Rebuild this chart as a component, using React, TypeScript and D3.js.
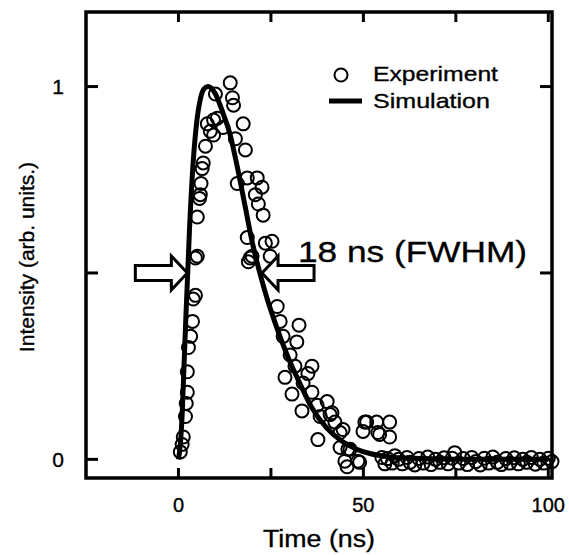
import { useEffect, useRef } from "react";
import * as d3 from "d3";

// experiment: [time (ns), intensity]
const experimentTime = [
  0.5, 1.0, 1.3, 1.9, 2.1, 2.4, 2.4, 2.7, 3.3, 3.8, 4.0, 4.6, 4.6, 5.1, 5.1, 5.7, 5.9, 6.1, 6.4, 6.7,
  7.3, 7.8, 8.6, 9.5, 9.5, 10.0, 10.5, 12.0, 14.0, 14.6, 14.9, 15.4, 15.9, 17.5, 18.1, 18.6, 18.6, 19.4,
  19.9, 18.9, 20.8, 21.3, 21.6, 22.6, 22.9, 23.5, 25.3, 24.8, 26.7, 27.5, 28.3, 28.8, 30.2, 30.7, 31.5,
  32.0, 32.6, 33.4, 33.7, 35.0, 36.1, 36.1, 37.5, 37.7, 38.3, 40.2, 41.0, 41.5, 42.3, 43.7, 43.7, 44.5,
  45.0, 45.6, 45.8, 46.4, 48.5, 49.0, 49.9, 50.4, 50.9, 53.6, 53.9, 54.4, 55.0, 57.1, 57.1, 58.5, 55.8,
  56.5, 57.8, 59.5, 60.5, 61.8, 62.6, 63.9, 65.0, 66.2, 67.4, 68.3, 69.5, 70.7, 71.8, 72.9, 74.0, 74.7,
  75.8, 77.0, 78.1, 79.3, 80.4, 81.6, 82.7, 83.9, 85.0, 86.2, 87.3, 88.5, 89.6, 90.8, 91.9, 93.1, 94.2,
  95.4, 96.5, 97.7, 98.8, 100.0, 101.0,
];
const experimentIntensity = [
  0.02, 0.04, 0.06, 0.115, 0.15, 0.18, 0.235, 0.3, 0.33, 0.37, 0.43, 0.44, 0.54, 0.545, 0.65, 0.7, 0.71, 0.74, 0.78, 0.795,
  0.84, 0.9, 0.88, 0.87, 0.91, 0.98, 0.915, 0.89, 1.01, 0.97, 0.95, 0.86, 0.74, 0.9, 0.83, 0.755, 0.595, 0.54,
  0.545, 0.53, 0.71, 0.755, 0.685, 0.73, 0.655, 0.58, 0.585, 0.545, 0.41, 0.37, 0.33, 0.22, 0.28, 0.175, 0.25,
  0.315, 0.36, 0.13, 0.205, 0.23, 0.25, 0.18, 0.145, 0.053, 0.115, 0.155, 0.12, 0.125, 0.1, 0.072, 0.032, 0.08,
  -0.005, -0.02, 0.027, 0.027, -0.005, -0.008, 0.075, 0.1, 0.1, 0.1, 0.072, 0.067, 0.005, 0.1, 0.06, 0.01, -0.012,
  0.002, -0.01, 0.0, -0.012, 0.005, -0.008, -0.015, 0.002, -0.01, 0.006, -0.014, 0.0, -0.008, 0.004, -0.012, 0.003, 0.018,
  -0.01, 0.002, -0.014, 0.005, -0.006, -0.015, 0.003, -0.01, 0.006, -0.008, -0.014, 0.002, -0.01, 0.004, -0.012, 0.0, -0.008,
  0.005, -0.013, 0.0, -0.01, 0.003, -0.006,
];

// simulation curve
const simTime = [0, 0.5, 1, 1.5, 2, 2.5, 3, 4, 5, 6, 7, 8, 9, 10, 12, 14, 16, 18, 20, 22, 24, 26, 28, 30, 33, 36, 40, 44, 48, 52, 56, 60, 70, 80, 100];
const simIntensity = [0, 0.04, 0.12, 0.25, 0.38, 0.5, 0.62, 0.8, 0.91, 0.97, 0.995, 1.0, 0.995, 0.98, 0.93, 0.87, 0.78, 0.68, 0.58, 0.5, 0.43, 0.37, 0.315, 0.265, 0.2, 0.14, 0.085, 0.05, 0.028, 0.015, 0.008, 0.004, 0.001, 0, 0];

const xTicks = [0, 25, 50, 75, 100];
const xTickLabels = ["0", "", "50", "", "100"];
const yTicks = [0, 0.5, 1];
const yTickLabels = ["0", "", "1"];

// half maximum crossing points (ns) for the FWHM arrows
const fwhmEdges = [2.4, 22.6];
const halfMax = 0.5;

const App = () => {
  const svgRef = useRef<SVGSVGElement>(null);

  useEffect(() => {
    const svg = d3.select(svgRef.current);
    svg.selectAll("*").remove();

    const left = 86, right = 552, top = 12, bottom = 478;
    const font = "'Liberation Sans', Arial, Helvetica, sans-serif";

    const x = d3.scaleLinear().domain([-25, 101]).range([left, right]);
    const y = d3.scaleLinear().domain([-0.05, 1.2]).range([bottom, top]);

    // helper: scanned-looking text, optionally stretched to a width
    const label = (px: number, py: number, str: string, size: number, width?: number, anchor = "start") => {
      const t = svg
        .append("text")
        .attr("x", px)
        .attr("y", py)
        .attr("text-anchor", anchor)
        .attr("fill", "#000")
        .attr("stroke", "#000")
        .attr("stroke-width", 0.35)
        .style("font-family", font)
        .style("font-size", size + "px")
        .text(str);
      if (width) t.attr("textLength", width).attr("lengthAdjust", "spacingAndGlyphs");
      return t;
    };

    // simulation line
    const simData = simTime.map((t, i) => [t, simIntensity[i]] as [number, number]);
    const line = d3
      .line<[number, number]>()
      .x((d) => x(d[0]))
      .y((d) => y(d[1]))
      .curve(d3.curveMonotoneX);
    svg
      .append("path")
      .attr("d", line(simData))
      .attr("fill", "none")
      .attr("stroke", "#000")
      .attr("stroke-width", 5)
      .attr("stroke-linejoin", "round");

    // experiment circles
    const expData = experimentTime.map((t, i) => [t, experimentIntensity[i]]);
    svg
      .append("g")
      .selectAll("circle")
      .data(expData)
      .enter()
      .append("circle")
      .attr("cx", (d) => x(d[0]))
      .attr("cy", (d) => y(d[1]))
      .attr("r", 6.5)
      .attr("fill", "none")
      .attr("stroke", "#000")
      .attr("stroke-width", 2);

    // frame
    svg
      .append("rect")
      .attr("x", left)
      .attr("y", top)
      .attr("width", right - left)
      .attr("height", bottom - top)
      .attr("fill", "none")
      .attr("stroke", "#000")
      .attr("stroke-width", 3.5);

    // inward ticks on all four sides
    const tickG = svg.append("g").attr("stroke", "#000").attr("stroke-width", 3);
    xTicks.forEach((t) => {
      tickG.append("line").attr("x1", x(t)).attr("x2", x(t)).attr("y1", bottom).attr("y2", bottom - 10);
      tickG.append("line").attr("x1", x(t)).attr("x2", x(t)).attr("y1", top).attr("y2", top + 10);
    });
    yTicks.forEach((v) => {
      tickG.append("line").attr("x1", left).attr("x2", left + 12).attr("y1", y(v)).attr("y2", y(v));
      tickG.append("line").attr("x1", right).attr("x2", right - 12).attr("y1", y(v)).attr("y2", y(v));
    });

    // tick labels
    xTicks.forEach((t, i) => {
      if (xTickLabels[i]) label(x(t), 512, xTickLabels[i], 20, undefined, "middle");
    });
    yTicks.forEach((v, i) => {
      if (yTickLabels[i]) label(64, y(v) + 7.5, yTickLabels[i], 21, undefined, "end");
    });

    // axis titles
    label((left + right) / 2, 547, "Time (ns)", 23, 112, "middle");
    svg
      .append("text")
      .attr("transform", "translate(34,257) rotate(-90)")
      .attr("text-anchor", "middle")
      .attr("stroke", "#000")
      .attr("stroke-width", 0.35)
      .style("font-family", font)
      .style("font-size", "21px")
      .text("Intensity (arb. units.)");

    // legend
    svg
      .append("circle")
      .attr("cx", 341)
      .attr("cy", 75)
      .attr("r", 6.5)
      .attr("fill", "none")
      .attr("stroke", "#000")
      .attr("stroke-width", 2);
    svg
      .append("line")
      .attr("x1", 329)
      .attr("x2", 362)
      .attr("y1", 101)
      .attr("y2", 101)
      .attr("stroke", "#000")
      .attr("stroke-width", 5);
    label(373, 81, "Experiment", 21, 125);
    label(373, 108, "Simulation", 21, 117);

    // FWHM arrows (hollow)
    const ay = y(halfMax);
    const arrow = (tipX: number, dir: number) => {
      const headLen = 16, tailLen = 36, headHalf = 17, tailHalf = 7.5;
      const pts: [number, number][] = [
        [tipX, ay],
        [tipX - dir * headLen, ay - headHalf],
        [tipX - dir * headLen, ay - tailHalf],
        [tipX - dir * (headLen + tailLen), ay - tailHalf],
        [tipX - dir * (headLen + tailLen), ay + tailHalf],
        [tipX - dir * headLen, ay + tailHalf],
        [tipX - dir * headLen, ay + headHalf],
      ];
      svg
        .append("polygon")
        .attr("points", pts.map((p) => p.join(",")).join(" "))
        .attr("fill", "#fff")
        .attr("stroke", "#000")
        .attr("stroke-width", 3)
        .attr("stroke-linejoin", "miter");
    };
    arrow(x(fwhmEdges[0]), 1);
    arrow(x(fwhmEdges[1]), -1);

    label(298, 262, "18 ns (FWHM)", 30, 229);
  }, []);

  return (
    <div style={{ position: "absolute", left: 0, top: 0 }}>
      <svg ref={svgRef} width={569} height={555} style={{ display: "block", background: "#fff" }} />
    </div>
  );
};

export default App;
